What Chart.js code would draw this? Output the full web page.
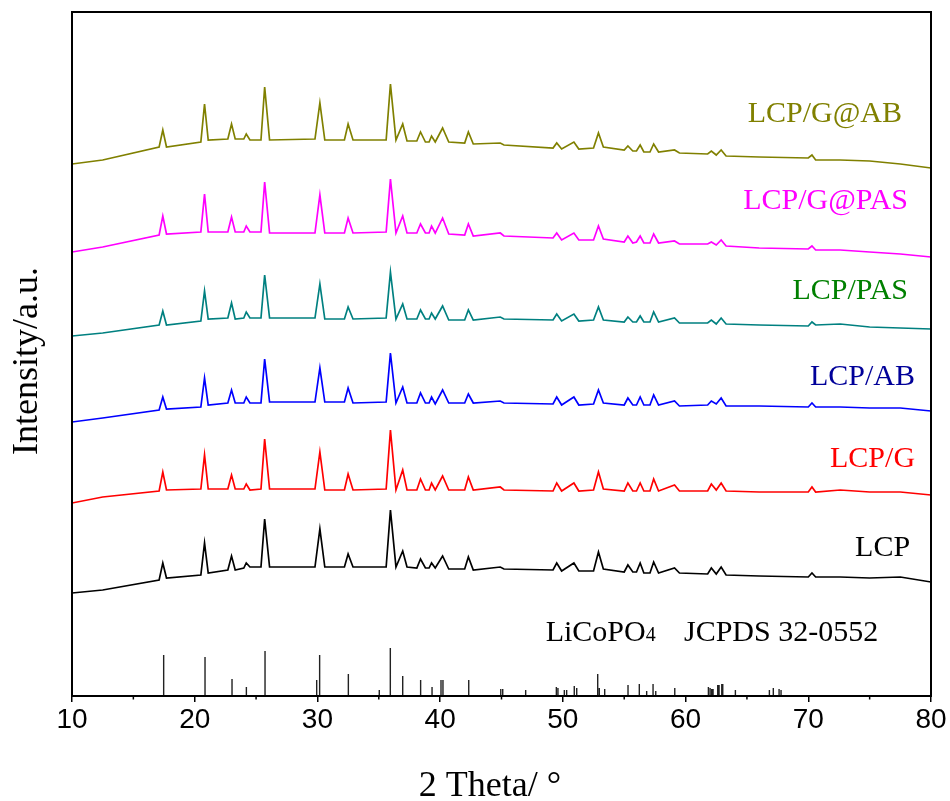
<!DOCTYPE html>
<html><head><meta charset="utf-8">
<script src="https://cdn.jsdelivr.net/npm/chart.js@4.4.0/dist/chart.umd.min.js"></script>
<style>html,body{margin:0;padding:0;background:#fff;}canvas{display:block;}</style>
</head><body>
<canvas id="c" width="950" height="801"></canvas>
<script>
// ---- data (2θ in degrees, intensity in a.u.) ----
const twoTheta = [10, 12.5, 17.1, 17.4, 17.7, 20.5, 20.8, 21.1, 22.7, 23.0, 23.3, 24.0, 24.2, 24.5, 25.4, 25.7, 26.1, 29.8, 30.2, 30.6, 32.2, 32.5, 32.9, 35.6, 35.95, 36.4, 36.95, 37.3, 38.1, 38.4, 38.8, 39.1, 39.3, 39.6, 40.2, 40.7, 42.0, 42.3, 42.7, 44.9, 45.2, 49.2, 49.5, 49.9, 50.9, 51.3, 52.5, 52.9, 53.3, 55.0, 55.3, 55.7, 56.0, 56.3, 56.6, 57.1, 57.4, 57.8, 59.1, 59.5, 61.8, 62.1, 62.5, 62.9, 63.3, 66.0, 70.0, 70.3, 70.6, 72.6, 75.0, 77.5, 80];

const seriesNames = ['LCP/G@AB', 'LCP/G@PAS', 'LCP/PAS', 'LCP/AB', 'LCP/G', 'LCP'];

const lcpGAB = [532, 536, 549,566,549, 554,592,556, 557,572,557, 557,562,556, 556,609,556, 557,593,556, 556,572,556, 556,612,556, 572,555, 555,564,554, 554,560,554, 568,554, 553,564,552, 553,551, 548,553,547, 554,547, 548,563,549, 546,550,545, 545,551,544, 544,552,544, 546,543, 542,545,541,546,540, 539, 538,541,536, 536,535,532,528];
const lcpGPAS = [444, 449, 461,480,462, 464,502,464, 464,479,464, 464,470,464, 464,514,463, 463,501,463, 463,478,463, 464,517,463, 480,463, 463,472,463, 463,470,463, 478,462, 461,472,460, 463,460, 458,463,456, 463,456, 456,470,457, 454,460,453, 454,460,453, 453,462,453, 455,452, 452,454,451,456,450, 448, 447,450,446, 446,444,442,439];
const lcpPAS = [360, 363, 371,385,371, 375,405,377, 378,393,377, 378,384,378, 378,421,378, 378,412,377, 377,389,377, 378,424,377, 392,377, 377,386,377, 377,383,377, 390,376, 376,386,376, 379,377, 376,382,375, 382,375, 376,389,376, 374,379,374, 374,380,374, 374,384,374, 378,373, 373,376,372,378,372, 371, 370,374,371, 372,369,368,367];
const lcpAB = [274, 278, 286,299,287, 289,318,291, 293,306,293, 293,299,293, 293,337,294, 294,328,294, 294,308,293, 294,343,293, 309,293, 293,303,293, 293,299,292, 306,293, 293,302,293, 295,293, 292,299,291, 299,291, 292,306,293, 291,298,291, 291,299,291, 291,301,291, 295,290, 291,295,292,298,290, 290, 289,293,289, 289,288,288,285];
const lcpG = [193, 199, 205,224,206, 207,241,207, 207,221,207, 207,212,206, 207,257,207, 207,244,206, 206,222,206, 207,266,206, 226,206, 206,217,206, 206,213,206, 220,206, 206,219,206, 209,206, 205,213,205, 213,205, 206,224,207, 205,213,205, 205,213,205, 205,217,205, 211,205, 205,212,206,213,205, 204, 204,209,204, 206,204,204,201];
const lcp = [103, 106, 116,133,118, 121,153,123, 126,140,126, 128,133,129, 129,177,129, 129,167,129, 129,142,129, 129,186,129, 145,129, 128,137,128, 128,133,128, 140,127, 127,139,126, 129,127, 126,133,125, 133,125, 125,144,127, 124,131,124, 124,133,123, 123,134,123, 128,123, 122,128,122,129,121, 120, 119,123,119, 119,118,119,114];

// JCPDS 32-0552 reference lines
const stickTheta = [17.47, 20.84, 23.04, 24.21, 25.73, 29.94, 30.18, 32.52, 35.04, 35.94, 36.95, 38.41, 39.34, 40.07, 40.23, 42.33, 44.94, 45.10, 46.97, 49.47, 49.60, 50.12, 50.31, 50.93, 51.13, 52.84, 52.97, 53.41, 55.31, 56.23, 56.83, 57.35, 57.57, 59.12, 61.86, 62.00, 62.13, 62.24, 62.62, 62.73, 62.95, 63.03, 64.06, 66.83, 67.15, 67.62, 67.78];
const stickIntensity = [41, 39, 17, 9, 45, 16, 41, 22, 6, 48, 20, 16, 9, 16, 16, 16, 7, 7, 6, 9, 8, 6, 6, 10, 8, 22, 8, 7, 11, 12, 5, 12, 5, 8, 9, 8, 7, 7, 11, 11, 12, 12, 6, 6, 8, 7, 6];

const xTicks = [10, 20, 30, 40, 50, 60, 70, 80];
const xMinorTicks = [15, 25, 35, 45, 55, 65, 75];

// ---- styling ----
const seriesValues = [lcpGAB, lcpGPAS, lcpPAS, lcpAB, lcpG, lcp];
const lineColors = ['#808000', '#FF00FF', '#008080', '#0000FF', '#FF0000', '#000000'];
const labelColors = ['#808000', '#FF00FF', '#008000', '#000099', '#FF0000', '#000000'];
const labelAnchors = [[77.64, 574], [78.13, 487], [78.13, 397], [78.7, 311], [78.7, 229], [78.3, 140]];

const datasets = seriesValues.map((vals, i) => ({
  label: seriesNames[i],
  data: twoTheta.map((t, j) => ({ x: t, y: vals[j] })),
  borderColor: lineColors[i],
  borderWidth: 1.7,
  pointRadius: 0,
  tension: 0,
  fill: false
}));

const stickData = [];
stickTheta.forEach((t, i) => {
  stickData.push({ x: t, y: 0 }, { x: t, y: stickIntensity[i] }, { x: t, y: null });
});
datasets.push({
  label: 'JCPDS 32-0552',
  data: stickData,
  borderColor: '#222222',
  borderWidth: 1.4,
  pointRadius: 0,
  tension: 0,
  spanGaps: false
});

const serif = '"Liberation Serif", "Times New Roman", serif';

const decor = {
  id: 'decor',
  afterDatasetsDraw(chart) {
    const ctx = chart.ctx, xs = chart.scales.x, ys = chart.scales.y;
    ctx.save();
    ctx.font = '30px ' + serif;
    ctx.textAlign = 'right';
    ctx.textBaseline = 'alphabetic';
    seriesNames.forEach((n, i) => {
      ctx.fillStyle = labelColors[i];
      ctx.fillText(n, xs.getPixelForValue(labelAnchors[i][0]), ys.getPixelForValue(labelAnchors[i][1]));
    });
    // JCPDS label
    ctx.fillStyle = '#000';
    ctx.textAlign = 'left';
    const bx = xs.getPixelForValue(48.6), by = ys.getPixelForValue(55);
    ctx.font = '30px ' + serif;
    ctx.fillText('LiCoPO', bx, by);
    const w = ctx.measureText('LiCoPO').width;
    ctx.font = '20px ' + serif;
    ctx.fillText('4', bx + w, by);
    ctx.font = '30px ' + serif;
    ctx.fillText('JCPDS 32-0552', xs.getPixelForValue(59.87), by);
    ctx.restore();
  },
  afterDraw(chart) {
    const ctx = chart.ctx, a = chart.chartArea, xs = chart.scales.x;
    ctx.save();
    ctx.strokeStyle = '#000';
    ctx.lineWidth = 2;
    ctx.strokeRect(a.left, a.top, a.right - a.left, a.bottom - a.top);
    ctx.lineWidth = 1.5;
    xMinorTicks.forEach(v => {
      const px = xs.getPixelForValue(v);
      ctx.beginPath();
      ctx.moveTo(px, a.bottom);
      ctx.lineTo(px, a.bottom + 3.5);
      ctx.stroke();
    });
    ctx.fillStyle = '#000';
    ctx.font = '36px ' + serif;
    ctx.textAlign = 'center';
    ctx.textBaseline = 'alphabetic';
    ctx.fillText('2 Theta/ °', 490, 796);
    ctx.translate(37, 361);
    ctx.rotate(-Math.PI / 2);
    ctx.fillText('Intensity/a.u.', 0, 0);
    ctx.restore();
  }
};

new Chart(document.getElementById('c'), {
  type: 'line',
  data: { datasets },
  options: {
    responsive: false,
    animation: false,
    devicePixelRatio: 1,
    layout: { padding: { left: 72, right: 19, top: 12, bottom: 65 } },
    plugins: { legend: { display: false }, tooltip: { enabled: false } },
    scales: {
      x: {
        type: 'linear',
        min: 10, max: 80,
        afterBuildTicks: s => { s.ticks = xTicks.map(v => ({ value: v })); },
        afterFit: s => { s.height = 40; },
        ticks: {
          autoSkip: false, maxRotation: 0, padding: 1,
          color: '#000',
          font: { family: '"Liberation Sans", Arial, sans-serif', size: 28 },
          callback: v => String(v)
        },
        grid: { display: true, drawOnChartArea: false, drawTicks: true, tickLength: 6, color: '#000', lineWidth: 1.5 },
        border: { display: false }
      },
      y: { display: false, min: 0, max: 684 }
    }
  },
  plugins: [decor]
});
</script>
</body></html>
